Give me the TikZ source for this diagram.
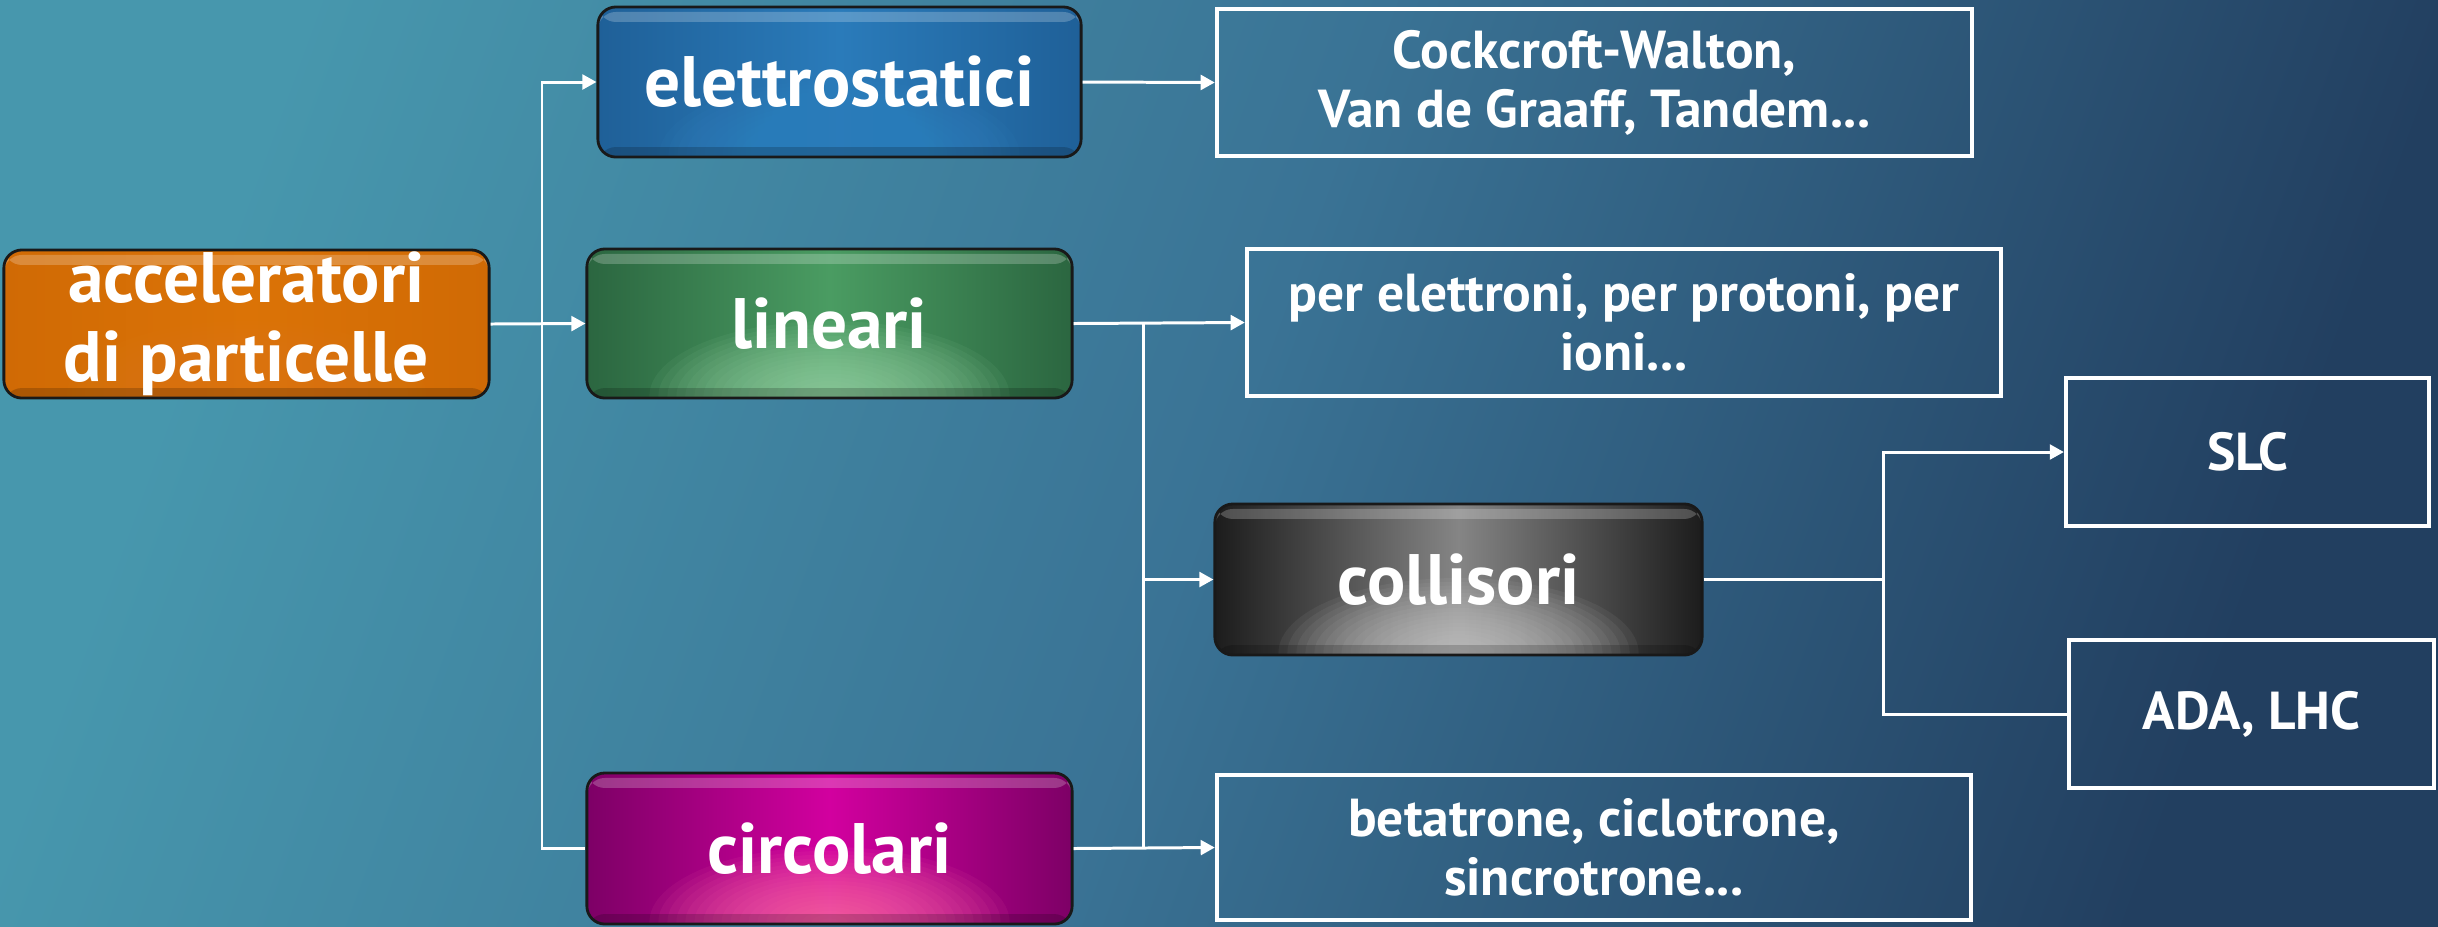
\documentclass[tikz,border=0pt]{standalone}
\usepackage{fontspec}
\setmainfont{PT Sans}
\usetikzlibrary{arrows.meta,calc}
\definecolor{bgA}{HTML}{4797AD}
\definecolor{bgM}{HTML}{3A7395}
\definecolor{bgB}{HTML}{223F60}
\definecolor{accE}{HTML}{D06A05}
\definecolor{accM}{HTML}{DB7306}
\definecolor{accG}{HTML}{DF7D1A}
\definecolor{eleE}{HTML}{1F6098}
\definecolor{eleM}{HTML}{2A7BBA}
\definecolor{eleG}{HTML}{3588C6}
\definecolor{linE}{HTML}{2B6640}
\definecolor{linM}{HTML}{4A9C62}
\definecolor{linG}{HTML}{9AD5A8}
\definecolor{colE}{HTML}{1C1C1C}
\definecolor{colM}{HTML}{858585}
\definecolor{colG}{HTML}{CACACA}
\definecolor{cirE}{HTML}{7D0066}
\definecolor{cirM}{HTML}{D2009F}
\definecolor{cirG}{HTML}{FF72A8}
\begin{document}
\begin{tikzpicture}[x=0.01cm,y=-0.01cm,
  conn/.style={draw=white, line width=0.85pt},
  arr/.style={conn, -{Triangle[length=4pt,width=4.2pt]}},
  gloss/.style n args={3}{rounded corners=0.18cm, draw=black!90, line width=0.8pt,
    left color=#1, right color=#1, middle color=#2, text=white,
    font=\bfseries\fontsize{20.3}{22.5}\selectfont, align=center, inner sep=0pt,
    path picture={
      \foreach \k in {0,...,19}{
        \fill[#3, opacity=0.075]
          ([yshift=0.02cm]path picture bounding box.south) ellipse
          [x radius={1.8cm*(1-\k/20)}, y radius={0.75cm*(1-\k/20)}];
      }
      \fill[white, opacity=0.22]
        ([yshift=-0.05cm]path picture bounding box.north west) rectangle
        ([yshift=-0.15cm]path picture bounding box.north east);
      \fill[black, opacity=0.18]
        ([yshift=0.1cm]path picture bounding box.south west) rectangle
        (path picture bounding box.south east);
    }},
  txtbox/.style={draw=white, line width=1.15pt, text=white,
    font=\bfseries\fontsize{15.2}{16.7}\selectfont, align=center, inner sep=0pt}
]
\useasboundingbox (0,0) rectangle (2438,926);
\shade[top color=bgA, bottom color=bgB, middle color=bgM, shading angle=70] (0,0) rectangle (2438,926);

% glossy category boxes
\node[gloss={accE}{accM}{accG}, minimum width=4.85cm, minimum height=1.48cm] (acc) at (246.5,324) {acceleratori\\di particelle};
\node[gloss={eleE}{eleM}{eleG}, minimum width=4.83cm, minimum height=1.50cm] (ele) at (839.5,82) {elettrostatici};
\node[gloss={linE}{linM}{linG}, minimum width=4.85cm, minimum height=1.49cm] (lin) at (829.5,323.5) {lineari};
\node[gloss={cirE}{cirM}{cirG}, minimum width=4.85cm, minimum height=1.51cm] (cir) at (829.5,848.5) {circolari};
\node[gloss={colE}{colM}{colG}, minimum width=4.87cm, minimum height=1.51cm] (col) at (1458.5,579.5) {collisori};

% example boxes
\node[txtbox, minimum width=7.55cm, minimum height=1.47cm] (cock) at (1594.5,82.5) {Cockcroft-Walton,\\Van de Graaff, Tandem...};
\node[txtbox, minimum width=7.54cm, minimum height=1.47cm] (per) at (1624,322.5) {per elettroni, per protoni, per\\ioni...};
\node[txtbox, minimum width=7.54cm, minimum height=1.45cm] (bet) at (1594,847.5) {betatrone, ciclotrone,\\sincrotrone...};
\node[txtbox, minimum width=3.63cm, minimum height=1.48cm] (slc) at (2247.5,452) {SLC};
\node[txtbox, minimum width=3.65cm, minimum height=1.48cm] (ada) at (2251.5,714) {ADA, LHC};

% connectors
\coordinate (j1) at (542,323.5);
\coordinate (j2) at (1143,323.5);
\coordinate (j3) at (1883,579.5);
\draw[arr] (acc.east) -- (lin.west);
\draw[arr] (j1) |- (ele.west);
\draw[conn] (j1) |- (cir.west);
\draw[arr] (ele.east) -- (cock.west);
\draw[arr] (lin.east) -- (per.west);
\draw[arr] (j2) |- (col.west);
\draw[conn] (j2) -- (j2 |- bet.west);
\draw[arr] (cir.east) -- (bet.west);
\draw[conn] (col.east) -- (j3);
\draw[arr] (j3) |- (slc.west);
\draw[conn] (j3) |- (ada.west);
\end{tikzpicture}
\end{document}
